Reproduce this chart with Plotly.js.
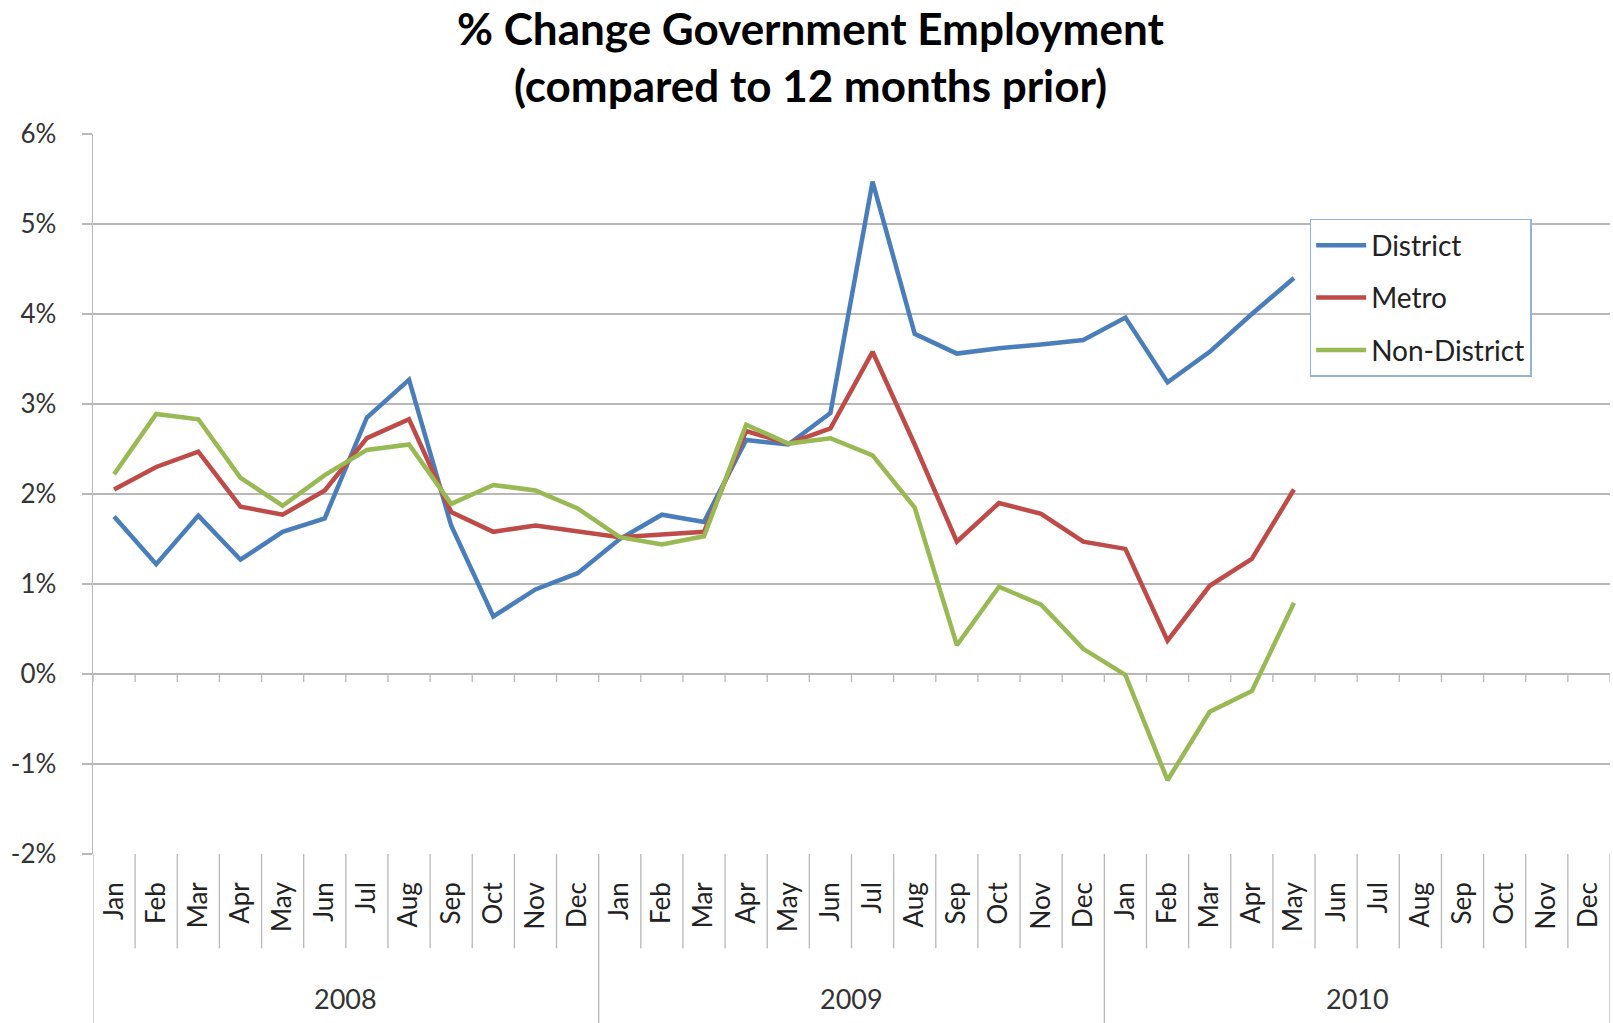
<!DOCTYPE html>
<html><head><meta charset="utf-8">
<script src="https://cdn.plot.ly/plotly-3.0.1.min.js"></script>
<style>html,body{margin:0;padding:0;background:#fff;} #chart{width:1613px;height:1023px;}</style>
</head><body><div id="chart"></div>
<script>
const years = ['2008', '2009', '2010'];
const months = ['Jan','Feb','Mar','Apr','May','Jun','Jul','Aug','Sep','Oct','Nov','Dec'];
const seriesNames = ['District', 'Metro', 'Non-District'];
const district = [1.75, 1.22, 1.76, 1.27, 1.58, 1.73, 2.85, 3.27, 1.65, 0.64, 0.94, 1.12,
                  1.50, 1.77, 1.69, 2.60, 2.55, 2.90, 5.47, 3.78, 3.56, 3.62, 3.66, 3.71,
                  3.96, 3.24, 3.58, 4.00, 4.40];
const metro = [2.05, 2.30, 2.47, 1.86, 1.77, 2.04, 2.62, 2.83, 1.80, 1.58, 1.65, 1.58,
               1.52, 1.55, 1.58, 2.70, 2.56, 2.73, 3.58, 2.55, 1.47, 1.90, 1.78, 1.47,
               1.39, 0.37, 0.98, 1.28, 2.05];
const nonDistrict = [2.22, 2.89, 2.83, 2.18, 1.87, 2.21, 2.49, 2.55, 1.89, 2.10, 2.04, 1.84,
                     1.52, 1.44, 1.53, 2.77, 2.56, 2.62, 2.43, 1.85, 0.32, 0.97, 0.77, 0.28,
                     -0.01, -1.18, -0.42, -0.19, 0.79];
const yTicks = [-2, -1, 0, 1, 2, 3, 4, 5, 6];
const yTickText = ['-2%', '-1%', '0%', '1%', '2%', '3%', '4%', '5%', '6%'];
const titleLines = ['% Change Government Employment', '(compared to 12 months prior)'];
const colors = ['#4A7EBB', '#BE4B48', '#98B954'];

const FONT = 'Lato, "Noto Sans", sans-serif';
const nCat = years.length * months.length;
const catIdx = Array.from({length: nCat}, (_, i) => i);
const catText = catIdx.map(i => months[i % 12]);

const allSeries = [district, metro, nonDistrict];
const traces = allSeries.map((vals, k) => ({
  type: 'scatter', mode: 'lines',
  x: vals.map((_, i) => i), y: vals,
  name: seriesNames[k], legendgroup: 'g' + k,
  line: {color: colors[k], width: 4.5},
  hoverinfo: 'skip'
}));

const grey = '#B8B8B8';
const shapes = [];
for (let b = 0; b <= nCat; b++) {
  const xb = b - 0.5;
  const isYear = (b % 12 === 0);
  shapes.push({type: 'line', xref: 'x', yref: 'paper', x0: xb, x1: xb,
    y0: 0, y1: isYear ? -0.236 : -0.131, line: {color: grey, width: 1.3}, layer: 'above'});
  shapes.push({type: 'line', xref: 'x', yref: 'y', x0: xb, x1: xb,
    y0: 0, y1: -0.09, line: {color: grey, width: 1.3}, layer: 'below'});
}

const annotations = years.map((yr, j) => ({
  xref: 'x', yref: 'paper', x: j * 12 + 5.5, y: -0.2, yanchor: 'middle',
  text: yr, showarrow: false, font: {family: FONT, size: 27, color: '#333'}
}));
const titleY = [1.147, 1.068];
titleLines.forEach((t, i) => annotations.push({
  xref: 'paper', yref: 'paper', x: 0.4727, y: titleY[i], xanchor: 'center', yanchor: 'middle',
  text: '<b>' + t + '</b>', showarrow: false,
  font: {family: FONT, size: 44, color: '#000'}
}));

const layout = {
  width: 1613, height: 1023,
  margin: {l: 93, r: 3, t: 134, b: 169},
  paper_bgcolor: '#fff', plot_bgcolor: '#fff',
  font: {family: FONT, color: '#333'},
  xaxis: {
    range: [-0.5, nCat - 0.5], tickvals: catIdx, ticktext: catText,
    tickangle: -90, ticks: '', showgrid: false, zeroline: false, showline: false,
    ticklabelstandoff: 22,
    tickfont: {family: FONT, size: 26, color: '#222'}, fixedrange: true
  },
  yaxis: {
    range: [-2, 6], tickmode: 'array', tickvals: yTicks, ticktext: yTickText,
    showgrid: true, gridcolor: grey, gridwidth: 1.5,
    zeroline: true, zerolinecolor: grey, zerolinewidth: 1.5,
    showline: true, linecolor: grey, linewidth: 1.5,
    ticks: 'outside', ticklen: 10, tickcolor: grey, tickwidth: 1.5,
    ticklabelstandoff: 20,
    tickfont: {family: FONT, size: 26, color: '#333'}, fixedrange: true
  },
  showlegend: true,
  legend: {
    x: 0.802, y: 0.882, xanchor: 'left', yanchor: 'top',
    bgcolor: '#fff', bordercolor: '#95B3D7', borderwidth: 1.5,
    font: {family: FONT, size: 28, color: '#222'},
    itemwidth: 50,
    tracegroupgap: 13, traceorder: 'grouped'
  },
  shapes: shapes,
  annotations: annotations
};

Plotly.newPlot('chart', traces, layout, {displayModeBar: false, staticPlot: true});
</script></body></html>
